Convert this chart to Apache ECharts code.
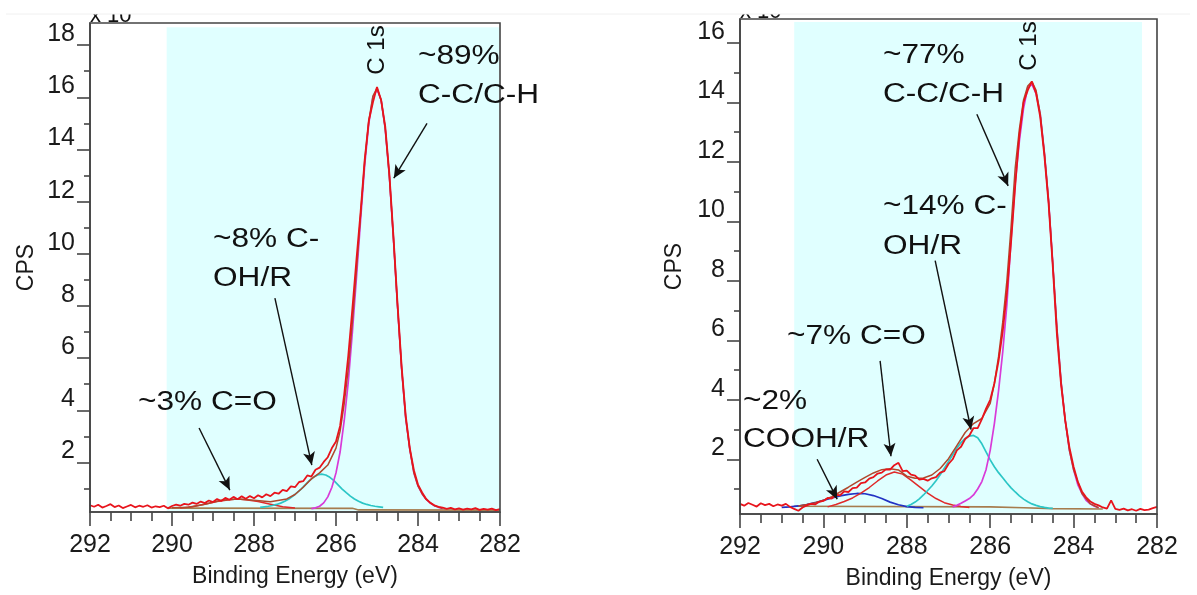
<!DOCTYPE html>
<html>
<head>
<meta charset="utf-8">
<title>C 1s XPS</title>
<script src="https://cdn.jsdelivr.net/npm/echarts@6/dist/echarts.min.js"></script>
<style>
  html, body { margin: 0; padding: 0; background: #fff; }
  #chart { width: 1197px; height: 595px; }
</style>
</head>
<body>
<div id="chart"></div>
<script>
// binding energy grid of the measured spectra (eV)
const energy = [
  292.0, 291.9, 291.8, 291.7, 291.6, 291.5, 291.4, 291.3, 291.2, 291.1,
  291.0, 290.9, 290.8, 290.7, 290.6, 290.5, 290.4, 290.3, 290.2, 290.1,
  290.0, 289.9, 289.8, 289.7, 289.6, 289.5, 289.4, 289.3, 289.2, 289.1,
  289.0, 288.9, 288.8, 288.7, 288.6, 288.5, 288.4, 288.3, 288.2, 288.1,
  288.0, 287.9, 287.8, 287.7, 287.6, 287.5, 287.4, 287.3, 287.2, 287.1,
  287.0, 286.9, 286.8, 286.7, 286.6, 286.5, 286.4, 286.3, 286.2, 286.1,
  286.0, 285.9, 285.8, 285.7, 285.6, 285.5, 285.4, 285.3, 285.2, 285.1,
  285.0, 284.9, 284.8, 284.7, 284.6, 284.5, 284.4, 284.3, 284.2, 284.1,
  284.0, 283.9, 283.8, 283.7, 283.6, 283.5, 283.4, 283.3, 283.2, 283.1,
  283.0, 282.9, 282.8, 282.7, 282.6, 282.5, 282.4, 282.3, 282.2, 282.1,
  282.0
]

// left panel (CPS x 10^3)
const rawA = [
  0.36, 0.30, 0.38, 0.27, 0.33, 0.40, 0.29, 0.35, 0.25, 0.31,
  0.37, 0.28, 0.34, 0.30, 0.36, 0.27, 0.32, 0.29, 0.34, 0.24,
  0.33, 0.38, 0.34, 0.41, 0.38, 0.46, 0.41, 0.50, 0.44, 0.54,
  0.48, 0.60, 0.52, 0.64, 0.57, 0.68, 0.59, 0.70, 0.61, 0.71,
  0.63, 0.74, 0.66, 0.78, 0.71, 0.84, 0.80, 0.95, 0.90, 1.08,
  1.05, 1.25, 1.28, 1.50, 1.46, 1.72, 1.80, 2.02, 2.20, 2.55,
  2.80, 3.40, 4.60, 6.10, 7.90, 9.80, 11.60, 13.60, 15.10, 15.80,
  16.40, 15.90, 14.90, 13.10, 10.70, 8.10, 5.70, 3.80, 2.55, 1.70,
  1.15, 0.85, 0.60, 0.45, 0.36, 0.30, 0.27, 0.22, 0.26, 0.20,
  0.24, 0.19, 0.23, 0.20, 0.25, 0.18, 0.22, 0.19, 0.23, 0.17,
  0.21
]
const envelopeA = [
  [290.0, 0.26], [289.6, 0.28], [289.2, 0.40], [288.8, 0.55], [288.4, 0.60], [288.0, 0.55],
  [287.6, 0.49], [287.2, 0.60], [287.0, 0.77], [286.8, 1.05], [286.6, 1.37], [286.4, 1.60],
  [286.2, 1.90], [286.0, 2.55], [285.9, 3.20], [285.8, 4.25], [285.7, 5.60], [285.6, 7.40],
  [285.5, 9.40], [285.4, 11.50], [285.3, 13.55], [285.2, 15.10], [285.1, 16.05], [285.0, 16.35],
  [284.9, 15.90], [284.8, 14.80], [284.7, 13.00], [284.6, 10.60], [284.5, 8.00], [284.4, 5.60],
  [284.3, 3.70], [284.2, 2.50], [284.1, 1.60], [284.0, 1.10], [283.9, 0.80], [283.8, 0.58],
  [283.6, 0.34], [283.4, 0.24]
]
const ccA = [
  [286.6, 0.23], [286.5, 0.26], [286.4, 0.32], [286.3, 0.45], [286.2, 0.68], [286.1, 1.05],
  [286.0, 1.60], [285.9, 2.40], [285.8, 3.60], [285.7, 5.10], [285.6, 7.00], [285.5, 9.10],
  [285.4, 11.30], [285.3, 13.40], [285.2, 15.00], [285.1, 16.00], [285.0, 16.30], [284.9, 15.90],
  [284.8, 14.80], [284.7, 13.00], [284.6, 10.60], [284.5, 8.00], [284.4, 5.60], [284.3, 3.70],
  [284.2, 2.50], [284.1, 1.60], [284.0, 1.10], [283.9, 0.80], [283.8, 0.58], [283.7, 0.44],
  [283.6, 0.34], [283.5, 0.28], [283.4, 0.24]
]
const cohA = [
  [287.85, 0.28], [287.75, 0.30], [287.65, 0.32], [287.55, 0.35], [287.45, 0.39], [287.35, 0.44],
  [287.25, 0.51], [287.15, 0.60], [287.05, 0.71], [286.95, 0.84], [286.85, 0.98], [286.75, 1.14],
  [286.65, 1.30], [286.55, 1.43], [286.45, 1.52], [286.35, 1.55], [286.25, 1.52], [286.15, 1.43],
  [286.05, 1.30], [285.95, 1.14], [285.85, 0.98], [285.75, 0.84], [285.65, 0.71], [285.55, 0.60],
  [285.45, 0.51], [285.35, 0.44], [285.25, 0.39], [285.15, 0.35], [285.05, 0.32], [284.95, 0.30],
  [284.85, 0.28]
]
const coA = [
  [289.8, 0.25], [289.5, 0.30], [289.2, 0.40], [288.9, 0.50], [288.6, 0.57], [288.4, 0.60],
  [288.2, 0.57], [287.9, 0.50], [287.6, 0.40], [287.3, 0.30], [287.0, 0.25]
]
const bgA = [[290.1, 0.25], [285.6, 0.24], [285.45, 0.18], [282.0, 0.17]]

// right panel (CPS x 10^3)
const rawB = [
  0.50, 0.44, 0.53, 0.47, 0.41, 0.52, 0.46, 0.50, 0.42, 0.48,
  0.44, 0.50, 0.40, 0.33, 0.27, 0.38, 0.45, 0.50, 0.48, 0.57,
  0.60, 0.70, 0.68, 0.80, 0.79, 0.92, 0.90, 1.03, 1.05, 1.20,
  1.22, 1.35, 1.40, 1.52, 1.55, 1.66, 1.65, 1.80, 1.88, 1.60,
  1.62, 1.48, 1.45, 1.32, 1.34, 1.28, 1.36, 1.40, 1.55, 1.60,
  1.84, 2.00, 2.30, 2.42, 2.68, 2.80, 3.05, 3.05, 3.35, 3.70,
  4.00, 4.55, 5.30, 6.30, 7.60, 9.30, 11.20, 12.90, 14.00, 14.40,
  14.70, 14.30, 13.50, 12.20, 10.60, 8.50, 6.20, 4.50, 3.30, 2.40,
  1.75, 1.25, 0.92, 0.72, 0.58, 0.50, 0.45, 0.38, 0.34, 0.62,
  0.33, 0.30, 0.34, 0.28, 0.32, 0.27, 0.33, 0.29, 0.31, 0.36,
  0.40
]
const envelopeB = [
  [290.6, 0.43], [290.4, 0.48], [290.2, 0.54], [290.0, 0.62], [289.8, 0.74], [289.6, 0.90],
  [289.4, 1.06], [289.2, 1.23], [289.0, 1.39], [288.8, 1.54], [288.6, 1.65], [288.4, 1.68],
  [288.2, 1.64], [288.0, 1.43], [287.8, 1.36], [287.6, 1.37], [287.4, 1.47], [287.2, 1.69],
  [287.0, 2.02], [286.8, 2.46], [286.6, 2.90], [286.4, 3.20], [286.2, 3.37], [286.0, 3.88],
  [285.9, 4.55], [285.8, 5.45], [285.7, 6.60], [285.6, 8.00], [285.5, 9.80], [285.4, 11.80],
  [285.3, 13.10], [285.2, 14.08], [285.1, 14.55], [285.0, 14.70], [284.9, 14.40], [284.8, 13.60],
  [284.7, 12.30], [284.6, 10.70], [284.5, 8.60], [284.4, 6.40], [284.3, 4.60], [284.2, 3.30],
  [284.1, 2.30], [284.0, 1.65], [283.8, 0.85], [283.6, 0.50], [283.4, 0.37]
]
const ccB = [
  [286.9, 0.40], [286.8, 0.45], [286.7, 0.52], [286.6, 0.60], [286.5, 0.68], [286.4, 0.80],
  [286.3, 1.00], [286.2, 1.25], [286.1, 1.65], [286.0, 2.30], [285.9, 3.20], [285.8, 4.30],
  [285.7, 5.60], [285.6, 7.20], [285.5, 9.40], [285.4, 11.30], [285.3, 12.70], [285.2, 13.80],
  [285.1, 14.50], [285.0, 14.60], [284.9, 14.30], [284.8, 13.60], [284.7, 12.30], [284.6, 10.70],
  [284.5, 8.60], [284.4, 6.40], [284.3, 4.60], [284.2, 3.30], [284.1, 2.30], [284.0, 1.65],
  [283.9, 1.15], [283.8, 0.85], [283.7, 0.62], [283.6, 0.50], [283.5, 0.42], [283.4, 0.37]
]
const cohB = [
  [288.0, 0.42], [287.9, 0.48], [287.8, 0.56], [287.7, 0.67], [287.6, 0.80], [287.5, 0.95],
  [287.4, 1.10], [287.3, 1.28], [287.2, 1.48], [287.1, 1.70], [287.0, 1.92], [286.9, 2.15],
  [286.8, 2.38], [286.7, 2.56], [286.6, 2.70], [286.5, 2.78], [286.4, 2.80], [286.3, 2.72],
  [286.2, 2.52], [286.1, 2.25], [286.0, 1.98], [285.9, 1.75], [285.8, 1.55], [285.7, 1.38],
  [285.6, 1.20], [285.5, 1.04], [285.4, 0.90], [285.3, 0.77], [285.2, 0.66], [285.1, 0.57],
  [285.0, 0.50], [284.9, 0.45], [284.8, 0.41], [284.7, 0.38], [284.6, 0.36], [284.5, 0.35]
]
const coB = [
  [289.9, 0.40], [289.7, 0.48], [289.5, 0.58], [289.3, 0.70], [289.1, 0.86], [288.9, 1.05],
  [288.7, 1.27], [288.5, 1.47], [288.3, 1.57], [288.1, 1.50], [287.9, 1.30], [287.7, 1.08],
  [287.5, 0.86], [287.3, 0.68], [287.1, 0.54], [286.9, 0.46], [286.7, 0.41], [286.5, 0.38]
]
const coohB = [
  [291.0, 0.38], [290.8, 0.40], [290.6, 0.43], [290.4, 0.48], [290.2, 0.54], [290.0, 0.62],
  [289.8, 0.70], [289.6, 0.77], [289.4, 0.82], [289.2, 0.85], [289.0, 0.84], [288.8, 0.78],
  [288.6, 0.68], [288.4, 0.56], [288.2, 0.47], [288.0, 0.41], [287.8, 0.38], [287.6, 0.37]
]
const bgB = [[290.7, 0.42], [286.0, 0.40], [285.2, 0.37], [284.5, 0.34], [283.3, 0.33]]

const yMajorA = [2, 4, 6, 8, 10, 12, 14, 16, 18]
const yMinorA = [1, 3, 5, 7, 9, 11, 13, 15, 17]
const yMajorB = [2, 4, 6, 8, 10, 12, 14, 16]
const yMinorB = [1, 3, 5, 7, 9, 11, 13, 15]

const font = 'Liberation Sans, Arial, sans-serif'
const ink = '#1a1a1a'
const axisColor = '#444'
const colors = {
  raw: '#e8141c',
  envelope: '#b0482c',
  cc: '#d83ad8',
  coh: '#2cc6c6',
  co: '#e02a2a',
  cooh: '#2232c4',
  bg: '#a67c4e',
  shade: '#e0ffff'
}

const myChart = echarts.init(document.getElementById('chart'))

function xAxis (gridIndex) {
  return {
    type: 'value',
    gridIndex,
    min: 282,
    max: 292,
    interval: 2,
    inverse: true,
    z: 5,
    axisLine: { show: true, onZero: false, lineStyle: { color: axisColor, width: 1.6 } },
    axisTick: { show: true, length: 14, lineStyle: { color: axisColor, width: 1.6 } },
    minorTick: { show: true, splitNumber: 4, length: 9, lineStyle: { color: axisColor, width: 1.6 } },
    axisLabel: { fontSize: 25, margin: 21, color: ink, fontFamily: font },
    splitLine: { show: false },
    name: 'Binding Energy (eV)',
    nameLocation: 'middle',
    nameGap: 53,
    nameTextStyle: { fontSize: 23, color: ink, fontFamily: font }
  }
}

function yAxes (gridIndex, min, max, majors, minors, nameGap) {
  return [{
    type: 'value',
    gridIndex,
    position: 'left',
    min,
    max,
    z: 5,
    axisLine: { show: true, lineStyle: { color: axisColor, width: 1.6 } },
    axisTick: { show: true, length: 13, customValues: majors, lineStyle: { color: axisColor, width: 1.6 } },
    axisLabel: { customValues: majors, margin: 15, fontSize: 25, color: ink, fontFamily: font, verticalAlign: 'bottom', lineHeight: 22 },
    splitLine: { show: false },
    name: 'CPS',
    nameLocation: 'middle',
    nameGap,
    nameTextStyle: { fontSize: 23, color: ink, fontFamily: font }
  }, {
    type: 'value',
    gridIndex,
    position: 'left',
    min,
    max,
    z: 5,
    axisLine: { show: false },
    axisTick: { show: true, length: 6, customValues: minors, lineStyle: { color: axisColor, width: 1.6 } },
    axisLabel: { show: false },
    splitLine: { show: false }
  }]
}

function curve (data, color, xAxisIndex, yAxisIndex, width, z) {
  return {
    type: 'line',
    data,
    xAxisIndex,
    yAxisIndex,
    symbol: 'none',
    silent: true,
    z: z || 2,
    lineStyle: { color, width: width || 1.7 }
  }
}

function arrows (xAxisIndex, yAxisIndex, lines) {
  return {
    type: 'line',
    data: [],
    xAxisIndex,
    yAxisIndex,
    z: 6,
    markLine: {
      silent: true,
      symbol: ['none', 'arrow'],
      symbolSize: [9, 13],
      label: { show: false },
      lineStyle: { color: '#111', width: 1.4, type: 'solid' },
      data: lines.map(([a, b]) => [{ coord: a }, { coord: b }])
    }
  }
}

function shade (xAxisIndex, yAxisIndex, from, to, yMin, yMax) {
  return {
    type: 'line',
    data: [],
    xAxisIndex,
    yAxisIndex,
    z: 1,
    markArea: {
      silent: true,
      itemStyle: { color: colors.shade },
      data: [[{ xAxis: from, yAxis: yMin }, { xAxis: to, yAxis: yMax }]]
    }
  }
}

function note (text, x, y) {
  return {
    type: 'text',
    x,
    y,
    z: 50,
    scaleX: 1.17,
    style: { text, fontSize: 27, fontFamily: font, fill: '#111', align: 'left', verticalAlign: 'middle' }
  }
}

const graphic = [
  // the axis multiplier, half cut away by the top of the picture
  { type: 'text', x: 90, y: 27, z: 40, style: { text: 'x 10', fontSize: 22, fontFamily: font, fill: '#111', verticalAlign: 'bottom' } },
  { type: 'text', x: 740, y: 23, z: 40, style: { text: 'x 10', fontSize: 22, fontFamily: font, fill: '#111', verticalAlign: 'bottom' } },
  { type: 'rect', z: 45, shape: { x: 0, y: 0, width: 1197, height: 14 }, style: { fill: '#fff' } },
  { type: 'line', z: 45, shape: { x1: 6, y1: 14, x2: 1190, y2: 14 }, style: { stroke: '#f0f0f0', lineWidth: 1 } },
  { type: 'text', x: 377, y: 50, z: 50, rotation: Math.PI / 2, style: { text: 'C 1s', fontSize: 24, fontFamily: font, fill: '#111', align: 'center', verticalAlign: 'middle' } },
  { type: 'text', x: 1029, y: 46, z: 50, rotation: Math.PI / 2, style: { text: 'C 1s', fontSize: 24, fontFamily: font, fill: '#111', align: 'center', verticalAlign: 'middle' } },
  note('~89%', 418, 57),
  note('C-C/C-H', 418, 96),
  note('~8% C-', 213, 240),
  note('OH/R', 213, 279),
  note('~3% C=O', 138, 403),
  note('~77%', 883, 56),
  note('C-C/C-H', 883, 95),
  note('~14% C-', 883, 207),
  note('OH/R', 883, 247),
  note('~7% C=O', 787, 337),
  note('~2%', 743, 402),
  note('COOH/R', 743, 440)
]

const option = {
  animation: false,
  backgroundColor: '#fff',
  grid: [
    { left: 90, top: 23, width: 410, height: 489, show: true, z: 5, borderColor: axisColor, borderWidth: 1.6, backgroundColor: 'transparent' },
    { left: 740, top: 19, width: 417, height: 498, show: true, z: 5, borderColor: axisColor, borderWidth: 1.6, backgroundColor: 'transparent' }
  ],
  xAxis: [xAxis(0), xAxis(1)],
  yAxis: [
    ...yAxes(0, 0.1, 18.85, yMajorA, yMinorA, 52),
    ...yAxes(1, 0.16, 16.8, yMajorB, yMinorB, 54)
  ],
  series: [
    shade(0, 0, 290.13, 282.02, 0.14, 18.69),
    curve(bgA, colors.bg, 0, 0, 1.6),
    curve(coA, colors.co, 0, 0, 1.5),
    curve(cohA, colors.coh, 0, 0),
    curve(ccA, colors.cc, 0, 0),
    curve(envelopeA, colors.envelope, 0, 0, 1.5, 3),
    curve(energy.map((e, i) => [e, rawA[i]]), colors.raw, 0, 0, 1.8, 4),
    arrows(0, 0, [
      [[283.78, 15.0], [284.59, 12.9]],
      [[287.49, 8.3], [286.59, 1.9]],
      [[289.34, 3.32], [288.59, 0.94]]
    ]),

    shade(1, 2, 290.7, 282.36, 0.2, 16.7),
    curve(bgB, colors.bg, 1, 2, 1.6),
    curve(coohB, colors.cooh, 1, 2),
    curve(coB, colors.co, 1, 2, 1.5),
    curve(cohB, colors.coh, 1, 2),
    curve(ccB, colors.cc, 1, 2),
    curve(envelopeB, colors.envelope, 1, 2, 1.5, 3),
    curve(energy.map((e, i) => [e, rawB[i]]), colors.raw, 1, 2, 1.8, 4),
    arrows(1, 2, [
      [[286.32, 13.6], [285.57, 11.19]],
      [[287.32, 8.68], [286.46, 3.0]],
      [[288.64, 5.31], [288.38, 2.1]],
      [[290.15, 2.0], [289.67, 0.66]]
    ])
  ],
  graphic
}

myChart.setOption(option)
</script>
</body>
</html>
